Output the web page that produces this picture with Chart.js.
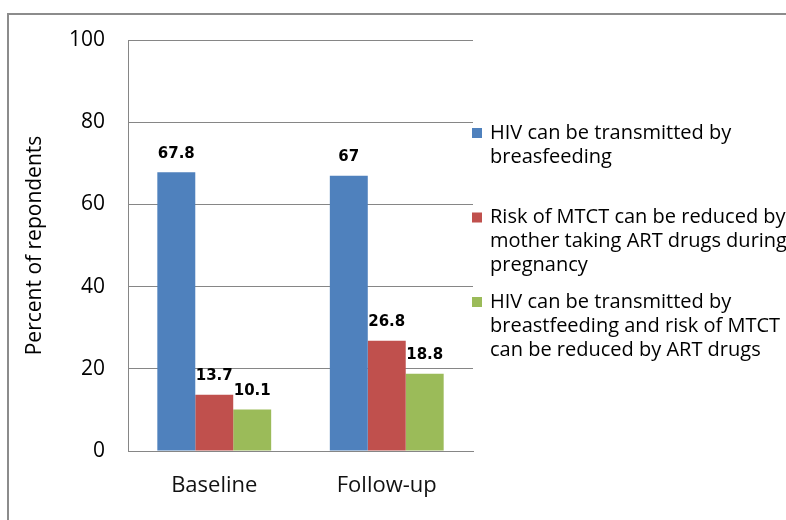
<!DOCTYPE html>
<html>
<head>
<meta charset="utf-8">
<script src="https://cdn.jsdelivr.net/npm/chart.js@4.4.0/dist/chart.umd.min.js"></script>
<style>
  html, body { margin: 0; padding: 0; background: #fff; }
  #wrap { width: 786px; height: 520px; }
</style>
</head>
<body>
<div id="wrap"><canvas id="knowledgeChart" width="786" height="520"></canvas></div>
<script>
// survey rounds
const categories = ['Baseline', 'Follow-up'];

// percent of respondents per statement
const hivBreastfeeding = [67.8, 67];
const mtctArtDrugs = [13.7, 26.8];
const bothStatements = [10.1, 18.8];

const seriesLabels = [
  'HIV can be transmitted by breasfeeding',
  'Risk of MTCT can be reduced by mother taking ART drugs during pregnancy',
  'HIV can be transmitted by breastfeeding and risk of MTCT can be reduced by ART drugs'
];
// legend text broken into the lines shown beside the plot
const legendLines = [
  ['HIV can be transmitted by', 'breasfeeding'],
  ['Risk of MTCT can be reduced by', 'mother taking ART drugs during', 'pregnancy'],
  ['HIV can be transmitted by', 'breastfeeding and risk of MTCT', 'can be reduced by ART drugs']
];
const seriesColors = ['#4F81BD', '#C0504D', '#9BBB59'];
const yTicks = [0, 20, 40, 60, 80, 100];

const FONT = '"Open Sans", "Noto Sans", sans-serif';

// grey outer frame
const framePlugin = {
  id: 'frame',
  beforeDraw(chart) {
    const ctx = chart.ctx;
    ctx.save();
    ctx.strokeStyle = '#8c8c8c';
    ctx.lineWidth = 2;
    ctx.beginPath();
    ctx.moveTo(8, 530);
    ctx.lineTo(8, 14);
    ctx.lineTo(800, 14);
    ctx.stroke();
    ctx.restore();
  }
};

// bold numbers above each bar
const valueLabels = {
  id: 'valueLabels',
  afterDatasetsDraw(chart) {
    const ctx = chart.ctx;
    ctx.save();
    ctx.font = 'bold 15px "DejaVu Sans", sans-serif';
    ctx.fillStyle = '#000';
    ctx.textAlign = 'center';
    ctx.textBaseline = 'bottom';
    chart.data.datasets.forEach((ds, i) => {
      chart.getDatasetMeta(i).data.forEach((bar, j) => {
        ctx.fillText(String(ds.data[j]), bar.x, bar.y - 11);
      });
    });
    ctx.restore();
  }
};

// legend at the right with wrapped labels
const sideLegend = {
  id: 'sideLegend',
  afterDraw(chart) {
    const ctx = chart.ctx;
    ctx.save();
    ctx.font = '20px ' + FONT;
    ctx.textBaseline = 'middle';
    ctx.textAlign = 'left';
    chart.data.datasets.forEach((ds, i) => {
      const top = 133 + i * 84.5;
      ctx.fillStyle = ds.backgroundColor;
      ctx.fillRect(472, top - 5, 10, 10);
      ctx.fillStyle = '#000';
      legendLines[i].forEach((line, k) => {
        ctx.fillText(line, 490, top + k * 24);
      });
    });
    ctx.restore();
  }
};

const seriesValues = [hivBreastfeeding, mtctArtDrugs, bothStatements];

new Chart(document.getElementById('knowledgeChart'), {
  type: 'bar',
  data: {
    labels: categories,
    datasets: seriesValues.map((vals, i) => ({
      label: seriesLabels[i],
      data: vals,
      backgroundColor: seriesColors[i],
      borderWidth: 0,
      categoryPercentage: 0.66,
      barPercentage: 1.0
    }))
  },
  options: {
    responsive: false,
    animation: false,
    layout: { padding: { top: 40, right: 313, bottom: 0, left: 0 } },
    plugins: {
      legend: { display: false },
      tooltip: { enabled: false }
    },
    scales: {
      x: {
        grid: { display: false, drawTicks: false },
        border: { color: '#868686', width: 1 },
        ticks: { color: '#111', font: { family: FONT, size: 22 }, padding: 22 },
        afterFit(scale) { scale.height = 69; }
      },
      y: {
        min: 0,
        max: 100,
        afterBuildTicks(scale) { scale.ticks = yTicks.map(v => ({ value: v })); },
        grid: { color: '#868686', drawTicks: false },
        border: { color: '#868686', width: 1 },
        ticks: { color: '#000', font: { family: FONT, size: 21 }, padding: 23 },
        title: {
          display: true,
          text: 'Percent of repondents',
          color: '#000',
          font: { family: FONT, size: 21 },
          padding: { top: 22, bottom: 0 }
        },
        afterFit(scale) { scale.width = 128; }
      }
    }
  },
  plugins: [framePlugin, valueLabels, sideLegend]
});
</script>
</body>
</html>
